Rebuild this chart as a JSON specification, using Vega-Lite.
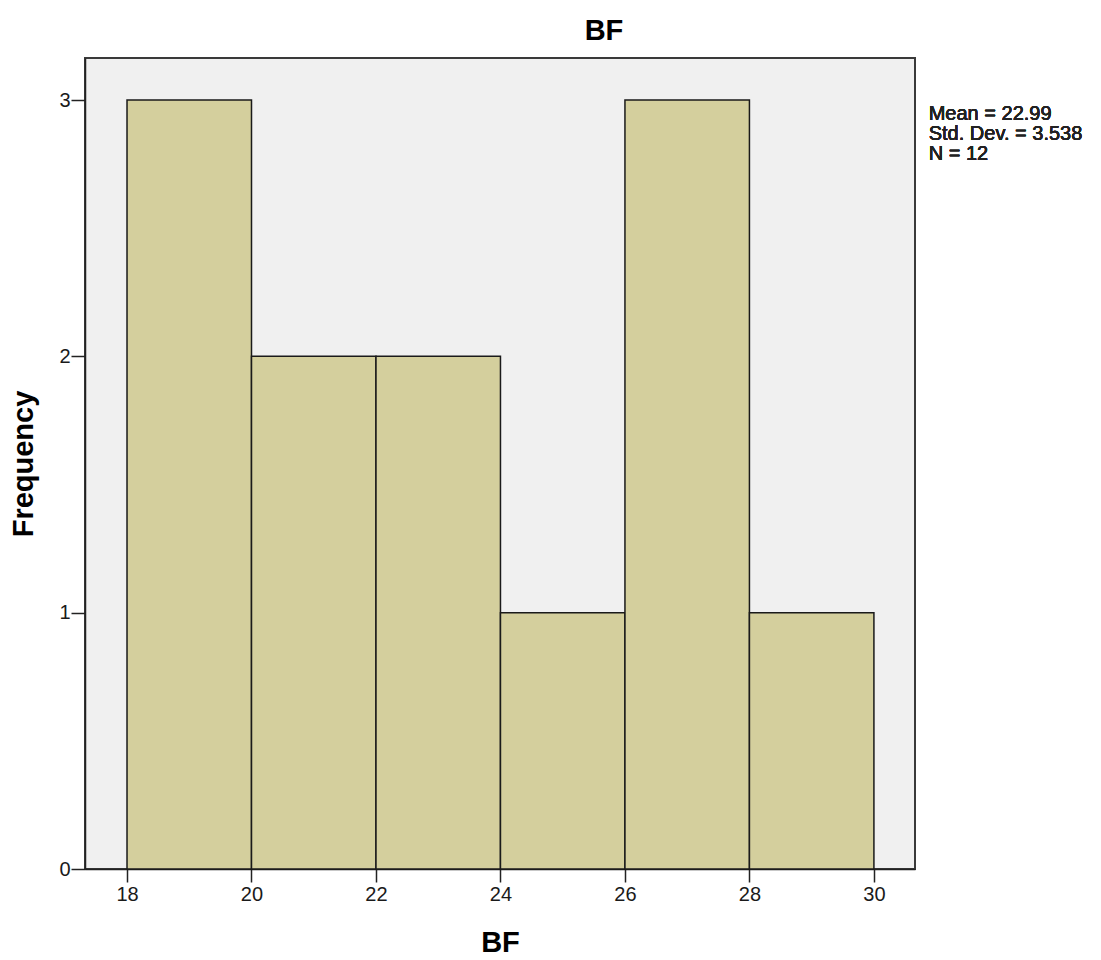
{
  "$schema": "https://vega.github.io/schema/vega-lite/v6.json",
  "autosize": {"type": "none"},
  "width": 830,
  "height": 811,
  "padding": {"left": 85, "top": 58, "right": 186, "bottom": 91},
  "background": "#ffffff",
  "title": {"text": "BF", "font": "Liberation Sans", "fontSize": 29, "fontWeight": "bold", "color": "#000000", "offset": 12, "anchor": "middle", "dx": 104},
  "config": {
    "view": {"fill": "#f0f0f0", "stroke": "#3a3a3a", "strokeWidth": 2}
  },
  "data": {"values": [
    {"bin_start": 18, "bin_end": 20, "count": 3},
    {"bin_start": 20, "bin_end": 22, "count": 2},
    {"bin_start": 22, "bin_end": 24, "count": 2},
    {"bin_start": 24, "bin_end": 26, "count": 1},
    {"bin_start": 26, "bin_end": 28, "count": 3},
    {"bin_start": 28, "bin_end": 30, "count": 1}
  ]},
  "layer": [
    {
      "mark": {"type": "rect", "fill": "#d4cf9d", "stroke": "#1a1a1a", "strokeWidth": 1.5},
      "encoding": {
        "x": {"field": "bin_start", "type": "quantitative", "scale": {"domain": [17.325, 30.66], "nice": false, "zero": false},
          "axis": {"values": [18, 20, 22, 24, 26, 28, 30], "format": "d", "title": "BF", "grid": false,
            "labelFont": "Liberation Sans", "labelFontSize": 20, "labelColor": "#1a1a1a", "labelPadding": 2,
            "titleFont": "Liberation Sans", "titleFontSize": 29, "titleFontWeight": "bold", "titleColor": "#000000", "titlePadding": 24,
            "domainColor": "#222222", "tickColor": "#222222", "tickSize": 13, "domainWidth": 1.5, "tickWidth": 1.5}},
        "x2": {"field": "bin_end"},
        "y": {"field": "count", "type": "quantitative", "scale": {"domain": [0, 3.164], "nice": false},
          "axis": {"values": [0, 1, 2, 3], "format": "d", "title": "Frequency", "grid": false,
            "labelFont": "Liberation Sans", "labelFontSize": 20, "labelColor": "#1a1a1a", "labelPadding": 1,
            "titleFont": "Liberation Sans", "titleFontSize": 29, "titleFontWeight": "bold", "titleColor": "#000000", "titlePadding": 20,
            "domainColor": "#222222", "tickColor": "#222222", "tickSize": 14, "domainWidth": 1.5, "tickWidth": 1.5}},
        "y2": {"datum": 0}
      }
    },
    {
      "mark": {"type": "text", "align": "left", "baseline": "middle", "font": "Liberation Sans", "fontSize": 20, "fontWeight": "normal", "fill": "#222222", "lineHeight": 20, "clip": false},
      "encoding": {
        "x": {"datum": 30.88},
        "y": {"datum": 2.945},
        "text": {"value": ["Mean = 22.99", "Std. Dev. = 3.538", "N = 12"]}
      }
    }
  ]
}
